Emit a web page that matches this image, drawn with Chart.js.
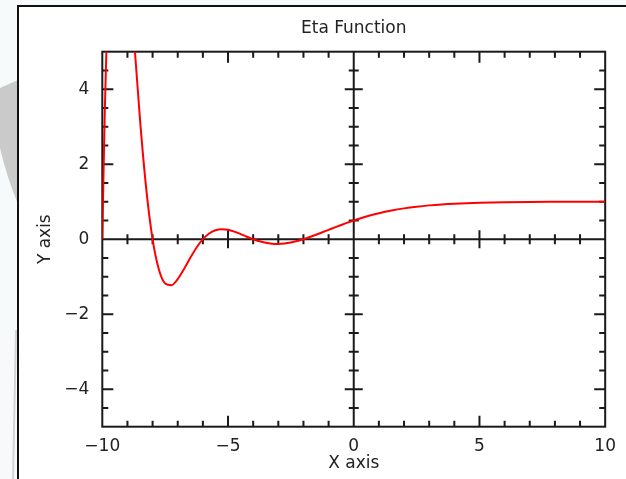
<!DOCTYPE html>
<html>
<head>
<meta charset="utf-8">
<title>Eta Function</title>
<script src="https://cdn.jsdelivr.net/npm/chart.js@4/dist/chart.umd.min.js"></script>
<style>
  html, body { margin: 0; padding: 0; background: #f6fafa; }
  #wrap { width: 626px; height: 479px; }
</style>
</head>
<body>
<div id="wrap"><canvas id="etaChart" width="626" height="479"></canvas></div>
<script>
// values (eta(x) for x in [-10, 10])
const xValues = [
  -10, -9.95, -9.9, -9.8, -9.75, -9.5, -9.25, -9,
  -8.75, -8.5, -8.25, -8, -7.75, -7.5, -7.25, -7,
  -6.75, -6.5, -6.25, -6, -5.75, -5.5, -5.25, -5,
  -4.75, -4.5, -4.25, -4, -3.75, -3.5, -3.25, -3,
  -2.75, -2.5, -2.25, -2, -1.75, -1.5, -1.25, -1,
  -0.75, -0.5, -0.25, 0, 0.5, 1, 1.5, 2, 2.5, 3,
  3.5, 4, 4.5, 5, 6, 7, 8, 9, 10
];
const etaValues = [
  0, 1.8, 3.42, 6.0, 7.0, 9.65, 9.47, 7.75,
  5.45, 3.19, 1.33, 0, -0.81, -1.18, -1.226, -1.063,
  -0.793, -0.495, -0.22, 0, 0.153, 0.239, 0.267, 0.25,
  0.202, 0.137, 0.066, 0, -0.056, -0.096, -0.119, -0.125,
  -0.114, -0.088, -0.049, 0, 0.057, 0.119, 0.184, 0.25,
  0.316, 0.38, 0.442, 0.5, 0.605, 0.693, 0.765, 0.822, 0.867, 0.902,
  0.928, 0.947, 0.961, 0.972, 0.986, 0.993, 0.996, 0.998, 0.999
];
const xTickValues = [-10, -5, 0, 5, 10];
const yTickValues = [-4, -2, 0, 2, 4];

const fmt = (v) => (v < 0 ? "\u2212" + Math.abs(v) : String(v));

// light page, grey swoosh and the outer frame
const backdrop = {
  id: "backdrop",
  beforeDraw(chart) {
    const { ctx, width, height } = chart;
    ctx.save();
    ctx.fillStyle = "#f6fafa";
    ctx.fillRect(0, 0, width, height);
    ctx.fillStyle = "#cacaca";
    ctx.beginPath();
    ctx.moveTo(0, 88);
    ctx.lineTo(18, 80);
    ctx.lineTo(18, 204);
    ctx.quadraticCurveTo(7, 178, 0, 148);
    ctx.closePath();
    ctx.fill();
    ctx.strokeStyle = "#d4d4d4";
    ctx.lineWidth = 2;
    ctx.beginPath();
    ctx.moveTo(16, 330);
    ctx.lineTo(13, height);
    ctx.stroke();
    ctx.fillStyle = "#ffffff";
    ctx.fillRect(18, 6, width - 18, height - 6);
    ctx.strokeStyle = "#111111";
    ctx.beginPath();
    ctx.moveTo(18, height);
    ctx.lineTo(18, 6);
    ctx.lineTo(width, 6);
    ctx.stroke();
    ctx.restore();
  }
};

// box with inward ticks plus the crossing axes through the origin
const boxAxes = {
  id: "boxAxes",
  beforeDatasetsDraw(chart) {
    const { ctx, chartArea: { left, right, top, bottom }, scales: { x, y } } = chart;
    const x0 = x.getPixelForValue(0);
    const y0 = y.getPixelForValue(0);
    ctx.save();
    ctx.strokeStyle = "#1a1a1a";
    ctx.lineWidth = 2;
    ctx.strokeRect(left, top, right - left, bottom - top);
    ctx.beginPath();
    ctx.moveTo(left, y0);
    ctx.lineTo(right, y0);
    ctx.moveTo(x0, top);
    ctx.lineTo(x0, bottom);
    for (let v = -9; v <= 9; v += 1) {
      const px = x.getPixelForValue(v);
      const major = v % 5 === 0;
      const inner = major ? 11 : 6;
      const cross = major ? 9 : 5;
      ctx.moveTo(px, bottom);
      ctx.lineTo(px, bottom - inner);
      ctx.moveTo(px, top);
      ctx.lineTo(px, top + inner);
      ctx.moveTo(px, y0 - cross);
      ctx.lineTo(px, y0 + cross);
    }
    for (let v = -4.5; v <= 4.5; v += 0.5) {
      const py = y.getPixelForValue(v);
      const major = v % 2 === 0;
      const inner = major ? 11 : 6;
      const cross = major ? 9 : 5;
      ctx.moveTo(left, py);
      ctx.lineTo(left + inner, py);
      ctx.moveTo(right, py);
      ctx.lineTo(right - inner, py);
      ctx.moveTo(x0 - cross, py);
      ctx.lineTo(x0 + cross, py);
    }
    ctx.stroke();
    ctx.restore();
  }
};

Chart.defaults.font.family = "'DejaVu Sans', sans-serif";
Chart.defaults.font.size = 17;
Chart.defaults.color = "#222222";

const ctx = document.getElementById("etaChart").getContext("2d");
new Chart(ctx, {
  type: "line",
  data: {
    datasets: [{
      label: "eta",
      data: xValues.map((xv, i) => ({ x: xv, y: etaValues[i] })),
      borderColor: "#ff0000",
      borderWidth: 2,
      pointRadius: 0,
      cubicInterpolationMode: "monotone",
      fill: false
    }]
  },
  options: {
    responsive: false,
    animation: false,
    layout: { padding: { left: 0, right: 20, top: 0, bottom: 0 } },
    plugins: {
      legend: { display: false },
      tooltip: { enabled: false },
      title: {
        display: true,
        text: "Eta Function",
        fullSize: false,
        font: { size: 17, weight: "normal" },
        padding: { top: 18.8, bottom: 12.5 }
      }
    },
    scales: {
      x: {
        type: "linear",
        min: -10,
        max: 10,
        afterBuildTicks: (scale) => { scale.ticks = xTickValues.map((v) => ({ value: v })); },
        afterFit: (scale) => { scale.height = 52.3; },
        grid: { display: false, drawTicks: false },
        border: { display: false },
        ticks: { padding: 10, maxRotation: 0, autoSkip: false, callback: (v) => fmt(v) },
        title: { display: true, text: "X axis", padding: { top: 0, bottom: 5 } }
      },
      y: {
        type: "linear",
        min: -5,
        max: 5,
        afterBuildTicks: (scale) => { scale.ticks = yTickValues.map((v) => ({ value: v })); },
        afterFit: (scale) => { scale.width = 102.3; },
        grid: { display: false, drawTicks: false },
        border: { display: false },
        ticks: { padding: 13, autoSkip: false, callback: (v) => fmt(v) },
        title: { display: true, text: "Y axis", padding: { top: 35.3, bottom: 0 } }
      }
    }
  },
  plugins: [backdrop, boxAxes]
});
</script>
</body>
</html>
